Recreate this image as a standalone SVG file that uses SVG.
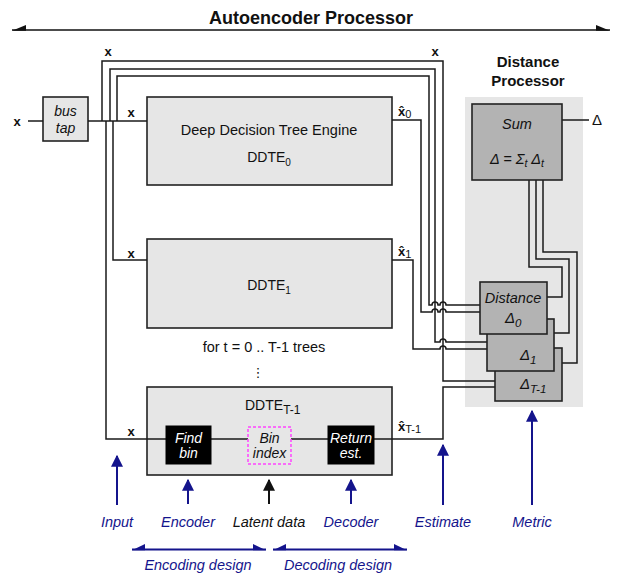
<svg xmlns="http://www.w3.org/2000/svg" width="623" height="584" viewBox="0 0 623 584">
<defs>
<style>
text{font-family:"Liberation Sans",Arial,sans-serif;fill:#111}
.t13{font-size:14px}
.t14{font-size:14px}
.lb{font-size:14.5px}
.it{font-style:italic}
.b{font-weight:bold}
.w{fill:#fff}
.navy{fill:#14148c}
.box{fill:#e6e6e6;stroke:#222;stroke-width:1.6}
.dbox{fill:#b3b3b3;stroke:#222;stroke-width:1.6}
.blk{fill:#000;stroke:#000}
.wire{fill:none;stroke:#1a1a1a;stroke-width:1.5}
.narr{stroke:#14148c;stroke-width:2;fill:none}
</style>
<marker id="ah" viewBox="0 0 10 10" refX="9" refY="5" markerWidth="6" markerHeight="6" orient="auto" markerUnits="strokeWidth"><path d="M0,0 L10,5 L0,10 Z" fill="#14148c"/></marker>
<marker id="ahk" viewBox="0 0 10 10" refX="9" refY="5" markerWidth="6" markerHeight="6" orient="auto" markerUnits="strokeWidth"><path d="M0,0 L10,5 L0,10 Z" fill="#111"/></marker>
</defs>
<rect width="623" height="584" fill="#fff"/>

<g id="title">
<text x="311" y="24" class="b" font-size="18" text-anchor="middle">Autoencoder Processor</text>
<line x1="12" y1="30" x2="610" y2="30" stroke="#111" stroke-width="1.6"/>
<polygon points="12,30.8 26,25 26,30.8" fill="#111"/>
<polygon points="610,30.8 596,25 596,30.8" fill="#111"/>
</g>

<g id="distance-processor">
<rect x="465" y="97" width="118" height="310" fill="#e6e6e6"/>
<text x="528" y="67" class="b" font-size="15" text-anchor="middle">Distance</text>
<text x="528" y="86" class="b" font-size="15" text-anchor="middle">Processor</text>
</g>

<g id="bus-tap">
<rect x="43" y="97" width="45" height="44" class="box"/>
<text x="65.5" y="116" class="t13 it" text-anchor="middle">bus</text>
<text x="65.5" y="133" class="t13 it" text-anchor="middle">tap</text>
</g>

<g id="ddte0">
<rect x="147" y="97" width="245" height="88" class="box"/>
<text x="269" y="135" font-size="14.5" text-anchor="middle">Deep Decision Tree Engine</text>
<text x="269" y="162" class="t14" text-anchor="middle">DDTE<tspan dy="4" font-size="10">0</tspan></text>
</g>

<g id="ddte1">
<rect x="147" y="239" width="245" height="89" class="box"/>
<text x="269" y="290" class="t14" text-anchor="middle">DDTE<tspan dy="4" font-size="10">1</tspan></text>
</g>

<g id="loop-note">
<text x="264" y="352" font-size="14.5" text-anchor="middle">for t = 0 .. T-1 trees</text>
<text x="258" y="377" font-size="13" style="font-family:'DejaVu Sans',sans-serif" text-anchor="middle">⋮</text>
</g>

<g id="ddteT">
<rect x="147" y="387" width="245" height="88" class="box"/>
<text x="245" y="410" class="t14">DDTE<tspan dy="4" font-size="12">T-1</tspan></text>
</g>

<g id="connectors">
<path class="wire" d="M28,121 H43" stroke-width="3.2"/>
<path class="wire" d="M88,121 H147"/>
<path class="wire" d="M102,121 V61 H443 V381 H495"/>
<path class="wire" d="M110,121 V69 H435 V342 H440 a3,3 0 0 1 6,0 H487"/>
<path class="wire" d="M117,121 V76 H429 V305 H432 a3,3 0 0 1 6,0 H440 a3,3 0 0 1 6,0 H480"/>
<path class="wire" d="M113,121 V260 H147"/>
<path class="wire" d="M106,121 V439 H166"/>
<path class="wire" d="M392,120 H421 V312 H432 a3,3 0 0 1 6,0 H440 a3,3 0 0 1 6,0 H480"/>
<path class="wire" d="M392,260 H413 V349 H440 a3,3 0 0 1 6,0 H487"/>
<path class="wire" d="M374,439 H443 V387 H495"/>
<path class="wire" d="M211,439 H248 M291,439 H328"/>
<path class="wire" d="M529,180 V267 H562 V297 H547"/>
<path class="wire" d="M536,180 V259 H569 V333 H554"/>
<path class="wire" d="M543,180 V252 H577 V363 H562"/>
<path class="wire" d="M562,120 H589"/>
</g>

<g id="wire-labels">
<text x="17" y="126" class="b" font-size="13" text-anchor="middle">x</text>
<text x="108" y="56" class="b" font-size="13" text-anchor="middle">x</text>
<text x="435" y="56" class="b" font-size="13" text-anchor="middle">x</text>
<text x="131" y="117" class="b" font-size="13" text-anchor="middle">x</text>
<text x="131" y="258" class="b" font-size="13" text-anchor="middle">x</text>
<text x="131" y="436" class="b" font-size="13" text-anchor="middle">x</text>
<text x="398" y="116" class="b" font-size="13">x̂<tspan dy="2" font-size="11" font-weight="normal">0</tspan></text>
<text x="398" y="256" class="b" font-size="13">x̂<tspan dy="2" font-size="11" font-weight="normal">1</tspan></text>
<text x="398" y="431" class="b" font-size="13">x̂<tspan dy="2" font-size="11" font-weight="normal">T-1</tspan></text>
<text x="597" y="125" font-size="15" text-anchor="middle">Δ</text>
</g>

<g id="find-bin">
<rect x="166" y="426" width="45" height="38" class="blk"/>
<text x="188.5" y="443" class="t13 it w" text-anchor="middle">Find</text>
<text x="188.5" y="458" class="t13 it w" text-anchor="middle">bin</text>
</g>
<g id="bin-index">
<rect x="248" y="427" width="43" height="37" fill="#e6e6e6" stroke="#ff44ff" stroke-width="1.5" stroke-dasharray="3,2"/>
<text x="269.5" y="443" class="t13 it" text-anchor="middle">Bin</text>
<text x="269.5" y="458" class="t13 it" text-anchor="middle">index</text>
</g>
<g id="return-est">
<rect x="328" y="426" width="46" height="38" class="blk"/>
<text x="351" y="443" class="t13 it w" text-anchor="middle">Return</text>
<text x="351" y="458" class="t13 it w" text-anchor="middle">est.</text>
</g>

<g id="distT">
<rect x="495" y="348" width="67" height="53" class="dbox"/>
<text x="520" y="389" font-size="15" class="it">Δ<tspan dy="4" font-size="11.5">T-1</tspan></text>
</g>
<g id="dist1">
<rect x="487" y="319" width="67" height="52" class="dbox"/>
<text x="520" y="360" font-size="15" class="it">Δ<tspan dy="4" font-size="11.5">1</tspan></text>
</g>
<g id="dist0">
<rect x="480" y="282" width="67" height="52" class="dbox"/>
<text x="513" y="303" font-size="14.5" class="it" text-anchor="middle">Distance</text>
<text x="505" y="323" font-size="15" class="it">Δ<tspan dy="4" font-size="11.5">0</tspan></text>
</g>

<g id="sum">
<rect x="472" y="104" width="90" height="76" class="dbox"/>
<text x="517" y="129" font-size="14.5" class="it" text-anchor="middle">Sum</text>
<text x="517" y="164" font-size="14.5" class="it" text-anchor="middle">Δ = Σ<tspan dy="3" font-size="10.5">t</tspan><tspan dy="-3"> Δ</tspan><tspan dy="3" font-size="10.5">t</tspan></text>
</g>

<g id="annotations">
<line x1="117" y1="505" x2="117" y2="456" class="narr" marker-end="url(#ah)"/>
<line x1="188" y1="504" x2="188" y2="480" class="narr" marker-end="url(#ah)"/>
<line x1="269" y1="504" x2="269" y2="480" stroke="#111" stroke-width="2" marker-end="url(#ahk)"/>
<line x1="351" y1="504" x2="351" y2="480" class="narr" marker-end="url(#ah)"/>
<line x1="443" y1="505" x2="443" y2="445" class="narr" marker-end="url(#ah)"/>
<line x1="532" y1="505" x2="532" y2="411" class="narr" marker-end="url(#ah)"/>
<text x="117" y="527" class="lb it navy" text-anchor="middle">Input</text>
<text x="188" y="527" class="lb it navy" text-anchor="middle">Encoder</text>
<text x="269" y="527" class="lb it" text-anchor="middle">Latent data</text>
<text x="351" y="527" class="lb it navy" text-anchor="middle">Decoder</text>
<text x="443" y="527" class="lb it navy" text-anchor="middle">Estimate</text>
<text x="532" y="527" class="lb it navy" text-anchor="middle">Metric</text>
<line x1="132" y1="549.5" x2="266" y2="549.5" stroke="#14148c" stroke-width="1.8"/>
<polygon points="132,550.3 145,544 145,550.3" fill="#14148c"/>
<polygon points="266,550.3 253,544 253,550.3" fill="#14148c"/>
<line x1="273" y1="549.5" x2="407" y2="549.5" stroke="#14148c" stroke-width="1.8"/>
<polygon points="273,550.3 286,544 286,550.3" fill="#14148c"/>
<polygon points="407,550.3 394,544 394,550.3" fill="#14148c"/>
<text x="198" y="570" class="lb it navy" text-anchor="middle">Encoding design</text>
<text x="338" y="570" class="lb it navy" text-anchor="middle">Decoding design</text>
</g>
</svg>
